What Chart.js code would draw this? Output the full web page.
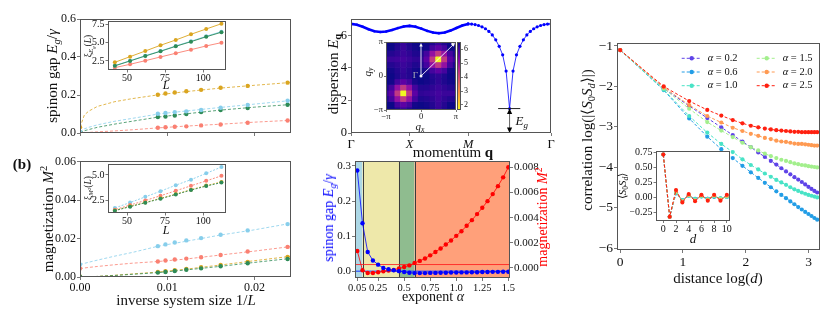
<!DOCTYPE html>
<html>
<head>
<meta charset="utf-8">
<title>spin chain figure</title>
<script src="https://cdn.jsdelivr.net/npm/chart.js@4.4.1/dist/chart.umd.min.js"></script>
<style>
  body { margin: 0; background: #fff; }
  #fig { position: relative; width: 831px; height: 318px; overflow: hidden; background: #fff;
         font-family: 'Liberation Serif', 'Times New Roman', serif; color: #111; }
  #fig canvas { position: absolute; left: 0; top: 0; }
  .lbl { position: absolute; white-space: nowrap; line-height: 1; }
  .lbl sub { font-size: 70%; vertical-align: -0.3em; line-height: 0; }
  .lbl sup { font-size: 70%; vertical-align: 0.55em; line-height: 0; }
</style>
</head>
<body>
<div id="fig"></div>
<script>
// ---------- data ----------
// finite size data, ordered from L = 112 down to L = 42
const sizes = [112, 102, 92, 82, 72, 62, 52, 42];

const gapOrange = [0.201, 0.208, 0.213, 0.220, 0.227, 0.238, 0.248, 0.265];
const gapBlue   = [0.101, 0.105, 0.110, 0.114, 0.121, 0.133, 0.147, 0.170];
const gapGreen  = [0.084, 0.087, 0.092, 0.100, 0.110, 0.121, 0.131, 0.149];
const gapRed    = [0.028, 0.030, 0.033, 0.035, 0.040, 0.045, 0.054, 0.066];
const gapLimitOrange = 0.030, gapLimitBlue = 0.006, gapLimitGreen = 0.003, gapLimitRed = 0.001;

// fitted curves in 1/L
const fitX = [0, 0.0005, 0.001, 0.002, 0.004, 0.006, 0.009, 0.012, 0.016, 0.020, 0.0242];
const gapFitOrange = [0.030, 0.095, 0.115, 0.140, 0.165, 0.181, 0.201, 0.217, 0.236, 0.251, 0.266];
const gapFitBlue   = [0.006, 0.022, 0.030, 0.043, 0.062, 0.077, 0.100, 0.115, 0.134, 0.152, 0.171];
const gapFitGreen  = [0.003, 0.012, 0.018, 0.030, 0.047, 0.062, 0.084, 0.100, 0.120, 0.136, 0.150];
const gapFitRed    = [0.001, 0.002, 0.003, 0.006, 0.011, 0.017, 0.027, 0.036, 0.046, 0.057, 0.067];

const xiGapOrange = [7.58, 6.86, 6.14, 5.36, 4.64, 3.86, 3.09, 2.32];
const xiGapBlue   = [6.50, 5.87, 5.19, 4.55, 3.86, 3.22, 2.54, 1.86];
const xiGapGreen  = [6.42, 5.80, 5.13, 4.50, 3.82, 3.18, 2.50, 1.84];
const xiGapRed    = [5.00, 4.55, 4.04, 3.55, 3.05, 2.54, 2.05, 1.59];

const magBlue   = [0.0161, 0.0170, 0.0180, 0.0191, 0.0203, 0.0220, 0.0243, 0.0276];
const magRed    = [0.0081, 0.0086, 0.0091, 0.0096, 0.0103, 0.0115, 0.0133, 0.0157];
const magOrange = [0.0026, 0.0030, 0.0035, 0.0042, 0.0051, 0.0063, 0.0079, 0.0105];
const magGreen  = [0.0023, 0.0026, 0.0031, 0.0038, 0.0045, 0.0056, 0.0072, 0.0094];
const magLimitBlue = 0.0065, magLimitRed = 0.0044, magLimitOrange = 0.0003, magLimitGreen = 0.0002;

const magFitBlue   = [0.0065, 0.0071, 0.0077, 0.0088, 0.0109, 0.0128, 0.0161, 0.0185, 0.0218, 0.0246, 0.0280];
const magFitRed    = [0.0044, 0.0047, 0.0050, 0.0055, 0.0064, 0.0072, 0.0081, 0.0093, 0.0114, 0.0135, 0.0159];
const magFitOrange = [0.0000, 0.0000, 0.0001, 0.0003, 0.0009, 0.0016, 0.0026, 0.0040, 0.0062, 0.0085, 0.0108];
const magFitGreen  = [0.0000, 0.0000, 0.0001, 0.0003, 0.0008, 0.0014, 0.0023, 0.0036, 0.0055, 0.0076, 0.0097];

const xiMagBlue   = [5.79, 5.16, 4.53, 3.98, 3.38, 2.82, 2.25, 1.71];
const xiMagRed    = [4.91, 4.41, 3.92, 3.42, 2.93, 2.46, 2.00, 1.54];
const xiMagOrange = [4.30, 3.94, 3.53, 3.09, 2.67, 2.26, 1.87, 1.47];
const xiMagGreen  = [4.24, 3.89, 3.49, 3.05, 2.63, 2.23, 1.84, 1.44];

// dispersion along Gamma-X-M-Gamma (path length in units of pi)
const pathQ1 = [0, 0.1, 0.2, 0.3, 0.4, 0.5, 0.6, 0.7, 0.8, 0.9, 1.0, 1.1, 1.2, 1.3, 1.4, 1.5, 1.6, 1.7, 1.8, 1.9, 2.0];
const dispE1 = [6.70, 6.65, 6.52, 6.37, 6.25, 6.20, 6.23, 6.32, 6.44, 6.54, 6.58, 6.53, 6.41, 6.27, 6.17, 6.13, 6.17, 6.29, 6.45, 6.60, 6.70];
const pathQ2 = [2.000, 2.059, 2.118, 2.177, 2.236, 2.295, 2.354, 2.412, 2.471, 2.530, 2.589, 2.648, 2.707,
                2.766, 2.825, 2.884, 2.943, 3.002, 3.061, 3.119, 3.178, 3.237, 3.296, 3.355, 3.414];
const dispE2 = [6.70, 6.69, 6.66, 6.60, 6.52, 6.40, 6.24, 6.02, 5.72, 5.32, 4.80, 3.80, 1.50,
                3.80, 4.80, 5.32, 5.72, 6.02, 6.24, 6.40, 6.52, 6.60, 6.66, 6.69, 6.70];
const pathTicks = [0, 1, 2, 3.4142];
const pathLabels = ['Γ', 'X', 'M', 'Γ'];
const gapLevel = 1.5, gapQ = 2.707, gapBar = [2.512, 2.89];

// E(qx, qy) on a 13 x 13 grid, rows = qy from -pi to pi, columns = qx from -pi to pi
const qGrid = [-3.1416, -2.618, -2.0944, -1.5708, -1.0472, -0.5236, 0, 0.5236, 1.0472, 1.5708, 2.0944, 2.618, 3.1416];
const dispMap = [
  [6.70, 6.60, 6.35, 6.13, 6.35, 6.52, 6.58, 6.52, 6.35, 6.13, 6.35, 6.60, 6.70],
  [6.60, 6.52, 6.00, 5.70, 6.00, 6.45, 6.52, 6.45, 6.30, 6.10, 6.30, 6.52, 6.60],
  [6.35, 6.00, 5.00, 4.30, 5.00, 6.00, 6.35, 6.30, 6.20, 6.05, 6.20, 6.30, 6.35],
  [6.13, 5.70, 4.30, 1.60, 4.30, 5.70, 6.20, 6.15, 6.10, 6.00, 6.10, 6.10, 6.13],
  [6.35, 6.00, 5.00, 4.30, 5.00, 6.00, 6.30, 6.30, 6.20, 6.10, 6.20, 6.30, 6.35],
  [6.52, 6.45, 6.00, 5.70, 6.00, 6.40, 6.52, 6.45, 6.35, 6.20, 6.35, 6.45, 6.52],
  [6.58, 6.52, 6.35, 6.20, 6.30, 6.52, 6.70, 6.52, 6.30, 6.20, 6.35, 6.52, 6.58],
  [6.52, 6.45, 6.30, 6.15, 6.30, 6.45, 6.52, 6.40, 6.00, 5.70, 6.00, 6.45, 6.52],
  [6.35, 6.30, 6.20, 6.10, 6.20, 6.35, 6.30, 6.00, 5.00, 4.30, 5.00, 6.00, 6.35],
  [6.13, 6.10, 6.05, 6.00, 6.10, 6.20, 6.20, 5.70, 4.30, 1.60, 4.30, 5.70, 6.13],
  [6.35, 6.30, 6.20, 6.10, 6.20, 6.35, 6.35, 6.00, 5.00, 4.30, 5.00, 6.00, 6.35],
  [6.60, 6.52, 6.30, 6.10, 6.30, 6.45, 6.52, 6.45, 6.00, 5.70, 6.00, 6.52, 6.60],
  [6.70, 6.60, 6.35, 6.13, 6.35, 6.52, 6.58, 6.52, 6.35, 6.13, 6.35, 6.60, 6.70]
];
const mapMin = 1.64, mapMax = 6.52;
const bzPath = [[0, 0], [0, Math.PI], [Math.PI, Math.PI]];

// gap and magnetization against the exponent alpha
const alphas = [0.05, 0.10, 0.15, 0.20, 0.25, 0.30, 0.35, 0.40, 0.45, 0.50, 0.55, 0.60, 0.65, 0.70, 0.75,
                0.80, 0.85, 0.90, 0.95, 1.00, 1.05, 1.10, 1.15, 1.20, 1.25, 1.30, 1.35, 1.40, 1.45, 1.50];
const gapAlpha = [0.287, 0.137, 0.055, 0.031, 0.019, 0.0094, 0.0057, 0.003, 0.0005, -0.002, -0.004, -0.005, -0.005, -0.005, -0.0045,
                  -0.0045, -0.004, -0.004, -0.0035, -0.0035, -0.003, -0.003, -0.0025, -0.0025, -0.002, -0.002, -0.0015, -0.0015, -0.001, -0.001];
const magAlpha = [0.00135, -0.00018, -0.0004, -0.0004, -0.00034, -0.00026, -0.0002, -0.00016, -0.00005, 0.00008, 0.0002, 0.0004, 0.00056, 0.00075, 0.001,
                  0.00127, 0.00155, 0.00186, 0.00218, 0.00255, 0.00292, 0.00335, 0.0038, 0.00428, 0.00478, 0.00531, 0.00587, 0.0065, 0.0072, 0.008];
const gapRefLevel = 0, magRefLevel = 0.00027;
const phaseEdges = [0.1, 0.45, 0.6];
const phaseColors = ['#add8e6', '#eee8aa', '#8fbc8f', '#ffa07a'];
const alphaTicks = [0.05, 0.25, 0.5, 0.75, 1.0, 1.25, 1.5];
const alphaTickLabels = ['0.05', '0.25', '0.5', '0.75', '1.0', '1.25', '1.5'];

// correlations against distance d = 1..23
const dists = [1, 2, 3, 4, 5, 6, 7, 8, 9, 10, 11, 12, 13, 14, 15, 16, 17, 18, 19, 20, 21, 22, 23];
const corr02 = [-1.1, -2.05, -2.48, -2.78, -3.01, -3.20, -3.36, -3.50, -3.63, -3.74, -3.84, -3.93, -4.02, -4.10, -4.17, -4.24, -4.30, -4.36, -4.42, -4.48, -4.53, -4.58, -4.62];
const corr06 = [-1.1, -2.09, -2.79, -3.24, -3.55, -3.77, -3.96, -4.12, -4.26, -4.38, -4.49, -4.59, -4.68, -4.76, -4.84, -4.91, -4.98, -5.04, -5.10, -5.15, -5.20, -5.25, -5.29];
const corr10 = [-1.1, -2.08, -2.73, -3.14, -3.42, -3.62, -3.80, -3.94, -4.05, -4.15, -4.23, -4.31, -4.37, -4.43, -4.49, -4.54, -4.58, -4.62, -4.65, -4.68, -4.70, -4.72, -4.74];
const corr15 = [-1.1, -2.05, -2.55, -2.88, -3.09, -3.25, -3.39, -3.50, -3.58, -3.66, -3.72, -3.77, -3.81, -3.84, -3.87, -3.90, -3.92, -3.94, -3.95, -3.97, -3.98, -3.99, -4.00];
const corr20 = [-1.1, -2.02, -2.46, -2.73, -2.89, -3.02, -3.10, -3.17, -3.22, -3.27, -3.30, -3.34, -3.36, -3.37, -3.39, -3.41, -3.42, -3.42, -3.43, -3.44, -3.45, -3.46, -3.46];
const corr25 = [-1.1, -2.00, -2.36, -2.58, -2.72, -2.83, -2.91, -2.97, -3.01, -3.04, -3.06, -3.08, -3.09, -3.10, -3.11, -3.12, -3.12, -3.13, -3.13, -3.13, -3.13, -3.13, -3.13];

// raw correlation <S0 Sd>, d = 0..10
const shortDists = [0, 1, 2, 3, 4, 5, 6, 7, 8, 9, 10];
const sd02 = [0.72, -0.32, 0.09, -0.05, 0.04, -0.03, 0.03, -0.02, 0.02, -0.02, 0.02];
const sd06 = [0.72, -0.32, 0.07, -0.04, 0.03, -0.02, 0.02, -0.02, 0.01, -0.01, 0.01];
const sd10 = [0.72, -0.32, 0.08, -0.04, 0.03, -0.02, 0.02, -0.02, 0.02, -0.01, 0.01];
const sd15 = [0.72, -0.32, 0.10, -0.06, 0.04, -0.04, 0.03, -0.03, 0.03, -0.02, 0.02];
const sd20 = [0.72, -0.32, 0.12, -0.07, 0.05, -0.05, 0.04, -0.04, 0.04, -0.04, 0.03];
const sd25 = [0.72, -0.32, 0.13, -0.08, 0.06, -0.06, 0.05, -0.05, 0.05, -0.05, 0.05];
const alphaNames = ['0.2', '0.6', '1.0', '1.5', '2.0', '2.5'];

// ---------- styling ----------
const W = 831, H = 318;
const cOrange = '#daa520', cBlue = '#87ceeb', cGreen = '#2e8b57', cRed = '#fa8072';
const corrColors = ['#5f43e8', '#229de6', '#48e3c6', '#a3ef8d', '#ff9a52', '#ff2010'];
const plasma = ['#0d0887', '#41049d', '#6a00a8', '#8f0da4', '#b12a90', '#cc4778',
                '#e16462', '#f2844b', '#fca636', '#fcce25', '#f0f921'];
const FONT = "'Liberation Serif', 'Times New Roman', serif";

Chart.defaults.font.family = FONT;
Chart.defaults.color = '#111';

const fig = document.getElementById('fig');

function newCanvas() {
  const c = document.createElement('canvas');
  c.width = W; c.height = H;
  c.style.width = W + 'px'; c.style.height = H + 'px';
  fig.appendChild(c);
  return c;
}

function hexRgb(h) {
  return [parseInt(h.slice(1, 3), 16), parseInt(h.slice(3, 5), 16), parseInt(h.slice(5, 7), 16)];
}

function plasmaAt(t) {
  t = Math.max(0, Math.min(1, t)) * (plasma.length - 1);
  const k = Math.min(Math.floor(t), plasma.length - 2), f = t - k;
  const a = hexRgb(plasma[k]), b = hexRgb(plasma[k + 1]);
  return 'rgb(' + a.map((v, i) => Math.round(v + (b[i] - v) * f)).join(',') + ')';
}

function mapColor(v) {
  return plasmaAt((mapMax - v) / (mapMax - mapMin));
}

function axis(pos, min, max, ticks, labels, size, o = {}) {
  return {
    type: 'linear', position: pos, min: min, max: max,
    grid: { display: true, drawOnChartArea: false, drawTicks: true, tickLength: o.tl || 3, tickWidth: 0.8, color: '#555' },
    border: { display: false },
    afterBuildTicks: s => { s.ticks = ticks.map(v => ({ value: v })); },
    afterFit: s => {
      if (s.isHorizontal()) { s.height = size; s.paddingLeft = 0; s.paddingRight = 0; }
      else { s.width = size; s.paddingTop = 0; s.paddingBottom = 0; }
    },
    ticks: {
      display: !!labels, autoSkip: false, maxRotation: 0, padding: o.pad !== undefined ? o.pad : 1,
      color: '#111',
      font: o.italic ? (ctx => ({ size: o.fs || 12, style: o.italic.includes(ctx.index) ? 'italic' : 'normal' }))
                     : { size: o.fs || 12 },
      callback: (v, i) => labels ? labels[i] : ''
    }
  };
}

function frame(fill) {
  return {
    id: 'frame',
    beforeDraw(c) {
      if (!fill) return;
      const a = c.chartArea, ctx = c.ctx;
      ctx.save();
      ctx.fillStyle = fill;
      ctx.fillRect(a.left, a.top, a.right - a.left, a.bottom - a.top);
      ctx.restore();
    },
    afterDraw(c) {
      const a = c.chartArea, ctx = c.ctx;
      ctx.save();
      ctx.strokeStyle = '#555';
      ctx.lineWidth = 1;
      ctx.strokeRect(Math.round(a.left) + 0.5, Math.round(a.top) + 0.5,
                     Math.round(a.right - a.left) - 1, Math.round(a.bottom - a.top) - 1);
      ctx.restore();
    }
  };
}

function build(box, sz, scales, datasets, plugins) {
  return new Chart(newCanvas(), {
    type: 'scatter',
    data: { datasets: datasets },
    options: {
      responsive: false, animation: false, devicePixelRatio: 1, events: [],
      layout: { padding: { left: box.l - (sz.l || 0), top: box.t, right: W - box.r - (sz.r || 0), bottom: H - box.b - (sz.b || 0) } },
      scales: scales,
      plugins: { legend: { display: false }, tooltip: { enabled: false } }
    },
    plugins: [frame(box.fill)].concat(plugins || [])
  });
}

function pts(xs, ys, color, r, extra) {
  return Object.assign({
    data: xs.map((x, i) => ({ x: x, y: ys[i] })), showLine: false,
    pointRadius: r || 2, pointBackgroundColor: color, pointBorderWidth: 0, borderColor: color
  }, extra || {});
}

function line(xs, ys, color, w, dash, r, extra) {
  return Object.assign({
    data: xs.map((x, i) => ({ x: x, y: ys[i] })), showLine: true,
    borderColor: color, borderWidth: w, borderDash: dash || [], tension: 0,
    pointRadius: r || 0, pointBackgroundColor: color, pointBorderWidth: 0
  }, extra || {});
}

function arrowHead(ctx, x, y, ang, size) {
  ctx.beginPath();
  ctx.moveTo(x, y);
  ctx.lineTo(x - size * Math.cos(ang - 0.45), y - size * Math.sin(ang - 0.45));
  ctx.lineTo(x - size * Math.cos(ang + 0.45), y - size * Math.sin(ang + 0.45));
  ctx.closePath();
  ctx.fill();
}

function subText(ctx, base, sub, x, y, size, color) {
  ctx.fillStyle = color;
  ctx.textBaseline = 'alphabetic';
  ctx.textAlign = 'left';
  ctx.font = 'italic ' + size + 'px ' + FONT;
  ctx.fillText(base, x, y);
  const w = ctx.measureText(base).width;
  ctx.font = 'italic ' + Math.round(size * 0.7) + 'px ' + FONT;
  ctx.fillText(sub, x + w, y + size * 0.25);
}

function label(html, x, y, size, rot, color, weight) {
  const d = document.createElement('div');
  d.className = 'lbl';
  d.innerHTML = html;
  d.style.left = x + 'px';
  d.style.top = y + 'px';
  d.style.fontSize = size + 'px';
  if (color) d.style.color = color;
  if (weight) d.style.fontWeight = weight;
  d.style.transform = 'translate(-50%, -50%)' + (rot ? ' rotate(' + rot + 'deg)' : '');
  fig.appendChild(d);
}

const invL = sizes.map(L => 1 / L);
const zeroAndInvL = [0].concat(invL);

// ---------- (a) spinon gap vs 1/L ----------
build({ l: 80, t: 19, r: 291, b: 133 }, { l: 40, b: 4 }, {
  x: axis('bottom', 0, 0.0242, [0, 0.01, 0.02], null, 4),
  y: axis('left', 0, 0.6, [0, 0.2, 0.4, 0.6], ['0.0', '0.2', '0.4', '0.6'], 40, { fs: 12 })
}, [
  pts(zeroAndInvL, [gapLimitOrange].concat(gapOrange), cOrange, 2.2),
  pts(zeroAndInvL, [gapLimitBlue].concat(gapBlue), cBlue, 2.2),
  pts(zeroAndInvL, [gapLimitGreen].concat(gapGreen), cGreen, 2.2),
  pts(zeroAndInvL, [gapLimitRed].concat(gapRed), cRed, 2.2),
  line(fitX, gapFitOrange, cOrange, 0.8, [3, 2]),
  line(fitX, gapFitBlue, cBlue, 0.8, [3, 2]),
  line(fitX, gapFitGreen, cGreen, 0.8, [3, 2]),
  line(fitX, gapFitRed, cRed, 0.8, [3, 2])
]);

build({ l: 108, t: 21, r: 226, b: 70, fill: '#fff' }, { l: 18, b: 11 }, {
  x: axis('bottom', 37.5, 115, [50, 75, 100], ['50', '75', '100'], 11, { fs: 10, tl: 2.5, pad: 0 }),
  y: axis('left', 1.27, 7.95, [2.5, 5, 7.5], ['2.5', '5.0', '7.5'], 18, { fs: 10, tl: 2.5 })
}, [
  line(sizes, xiGapOrange, cOrange, 0.9, [], 2),
  line(sizes, xiGapGreen, cGreen, 0.9, [], 2),
  line(sizes, xiGapBlue, cBlue, 0.9, [], 2),
  line(sizes, xiGapRed, cRed, 0.9, [], 2)
]);

// ---------- (b) magnetization vs 1/L ----------
build({ l: 80, t: 161, r: 291, b: 277 }, { l: 40, b: 15 }, {
  x: axis('bottom', 0, 0.0242, [0, 0.01, 0.02], ['0.00', '0.01', '0.02'], 15, { fs: 12 }),
  y: axis('left', 0, 0.0605, [0, 0.02, 0.04, 0.06], ['0.00', '0.02', '0.04', '0.06'], 40, { fs: 12 })
}, [
  pts(zeroAndInvL, [magLimitBlue].concat(magBlue), cBlue, 2.2),
  pts(zeroAndInvL, [magLimitRed].concat(magRed), cRed, 2.2),
  pts(zeroAndInvL, [magLimitGreen].concat(magGreen), cGreen, 2.2),
  pts(zeroAndInvL, [magLimitOrange].concat(magOrange), cOrange, 2.2),
  line(fitX, magFitBlue, cBlue, 0.8, [3, 2]),
  line(fitX, magFitRed, cRed, 0.8, [3, 2]),
  line(fitX, magFitGreen, cGreen, 0.8, [3, 2]),
  line(fitX, magFitOrange, cOrange, 0.8, [3, 2])
]);

build({ l: 108, t: 164, r: 226, b: 213, fill: '#fff' }, { l: 18, b: 11 }, {
  x: axis('bottom', 37.5, 115, [50, 75, 100], ['50', '75', '100'], 11, { fs: 10, tl: 2.5, pad: 0 }),
  y: axis('left', 1.21, 6.09, [2.5, 5], ['2.5', '5.0'], 18, { fs: 10, tl: 2.5 })
}, [
  line(sizes, xiMagGreen, cGreen, 0.9, [2, 1.5], 2),
  line(sizes, xiMagOrange, cOrange, 0.9, [2, 1.5], 2),
  line(sizes, xiMagRed, cRed, 0.9, [2, 1.5], 2),
  line(sizes, xiMagBlue, cBlue, 0.9, [2, 1.5], 2)
]);

// ---------- dispersion ----------
const gapMark = {
  id: 'gapMark',
  afterDatasetsDraw(c) {
    const ctx = c.ctx, x = c.scales.x, y = c.scales.y;
    const ym = y.getPixelForValue(gapLevel), y0 = y.getPixelForValue(0);
    const xm = x.getPixelForValue(gapQ);
    ctx.save();
    ctx.strokeStyle = '#222';
    ctx.lineWidth = 1;
    ctx.beginPath();
    ctx.moveTo(x.getPixelForValue(gapBar[0]), ym);
    ctx.lineTo(x.getPixelForValue(gapBar[1]), ym);
    ctx.stroke();
    ctx.strokeStyle = '#666';
    ctx.beginPath();
    ctx.moveTo(xm, ym + 4);
    ctx.lineTo(xm, y0 - 4);
    ctx.stroke();
    ctx.fillStyle = '#000';
    arrowHead(ctx, xm, ym, -Math.PI / 2, 6);
    arrowHead(ctx, xm, y0, Math.PI / 2, 6);
    subText(ctx, 'E', 'g', xm + 6, ym + 16, 13, '#111');
    ctx.restore();
  }
};

build({ l: 351, t: 19, r: 551, b: 133 }, { l: 14, b: 15 }, {
  x: axis('bottom', 0, 3.4142, pathTicks, pathLabels, 15, { fs: 12.5, italic: [1, 2] }),
  y: axis('left', 0, 7, [0, 2, 4, 6], ['0', '2', '4', '6'], 14, { fs: 12.5 })
}, [
  line(pathQ1, dispE1, '#0000ff', 2.6, [], 1.3),
  line(pathQ2, dispE2, '#0000ff', 0.8, [], 1.6)
], [gapMark]);

// heat map inset
const bz = {
  id: 'bz',
  afterDatasetsDraw(c) {
    const ctx = c.ctx, x = c.scales.x, y = c.scales.y;
    const P = bzPath.map(p => [x.getPixelForValue(p[0]), y.getPixelForValue(p[1])]);
    ctx.save();
    ctx.strokeStyle = 'rgba(255,255,255,0.85)';
    ctx.fillStyle = 'rgba(255,255,255,0.95)';
    ctx.lineWidth = 1;
    ctx.beginPath();
    ctx.moveTo(P[0][0], P[0][1]); ctx.lineTo(P[1][0], P[1][1] + 3);
    ctx.moveTo(P[1][0], P[1][1]); ctx.lineTo(P[2][0] - 3, P[2][1]);
    ctx.moveTo(P[0][0], P[0][1]); ctx.lineTo(P[2][0] - 2, P[2][1] + 2);
    ctx.stroke();
    arrowHead(ctx, P[1][0], P[1][1] + 1, -Math.PI / 2, 4);
    arrowHead(ctx, P[2][0] - 1, P[2][1] + 1, 0, 4);
    arrowHead(ctx, P[2][0] - 1, P[2][1] + 1, -Math.PI / 4, 4);
    ctx.beginPath();
    ctx.arc(P[0][0], P[0][1], 1.5, 0, 2 * Math.PI);
    ctx.fill();
    ctx.fillStyle = '#bbb';
    ctx.font = '9px ' + FONT;
    ctx.textAlign = 'right';
    ctx.textBaseline = 'middle';
    ctx.fillText('Γ', P[0][0] - 3, P[0][1]);
    ctx.restore();
  }
};

const cellX = [], cellY = [], cellC = [];
dispMap.forEach((row, j) => row.forEach((v, i) => {
  cellX.push(qGrid[i]); cellY.push(qGrid[j]); cellC.push(mapColor(v));
}));

build({ l: 386, t: 42, r: 456, b: 110 }, { l: 12, b: 10 }, {
  x: axis('bottom', -Math.PI, Math.PI, [-Math.PI, 0, Math.PI], ['−π', '0', 'π'], 10, { fs: 8.5, tl: 2, pad: 0 }),
  y: axis('left', -Math.PI, Math.PI, [-Math.PI, 0, Math.PI], ['−π', '0', 'π'], 12, { fs: 8.5, tl: 2 })
}, [
  pts(cellX, cellY, cellC, 4.5, { pointStyle: 'rect', pointBorderWidth: 0 })
], [bz]);

const cbar = {
  id: 'cbar',
  beforeDatasetsDraw(c) {
    const ctx = c.ctx, a = c.chartArea, y = c.scales.y;
    const g = ctx.createLinearGradient(0, y.getPixelForValue(mapMax), 0, y.getPixelForValue(mapMin));
    plasma.forEach((col, k) => g.addColorStop(k / (plasma.length - 1), col));
    ctx.save();
    ctx.fillStyle = g;
    ctx.fillRect(a.left, a.top, a.right - a.left, a.bottom - a.top);
    ctx.restore();
  }
};
build({ l: 457, t: 42, r: 461, b: 110 }, { r: 10 }, {
  x: { display: false, min: 0, max: 1 },
  y: axis('right', mapMin, mapMax, [2, 3, 4, 5, 6], ['2', '3', '4', '5', '6'], 10, { fs: 8, tl: 2 })
}, [], [cbar]);

// ---------- gap and magnetization vs alpha ----------
const phases = {
  id: 'phases',
  beforeDatasetsDraw(c) {
    const ctx = c.ctx, a = c.chartArea, x = c.scales.x;
    const edges = [x.min].concat(phaseEdges, [x.max]);
    ctx.save();
    for (let k = 0; k < edges.length - 1; k++) {
      const x0 = x.getPixelForValue(edges[k]), x1 = x.getPixelForValue(edges[k + 1]);
      ctx.fillStyle = phaseColors[k];
      ctx.fillRect(x0, a.top, x1 - x0, a.bottom - a.top);
    }
    ctx.strokeStyle = '#3c3c3c';
    ctx.lineWidth = 1;
    phaseEdges.forEach(e => {
      const px = Math.round(x.getPixelForValue(e)) + 0.5;
      ctx.beginPath(); ctx.moveTo(px, a.top); ctx.lineTo(px, a.bottom); ctx.stroke();
    });
    ctx.restore();
  }
};

build({ l: 355, t: 161, r: 510, b: 278 }, { l: 22, r: 32, b: 14 }, {
  x: axis('bottom', 0.028, 1.516, alphaTicks, alphaTickLabels, 14, { fs: 10.5 }),
  y: axis('left', -0.019, 0.314, [0, 0.1, 0.2, 0.3], ['0.0', '0.1', '0.2', '0.3'], 22, { fs: 11 }),
  y2: axis('right', -0.0008, 0.0085, [0, 0.002, 0.004, 0.006, 0.008], ['0.000', '0.002', '0.004', '0.006', '0.008'], 32, { fs: 11 })
}, [
  line(alphas, gapAlpha, '#0000ff', 0.8, [], 2.2, { yAxisID: 'y' }),
  line(alphas, magAlpha, '#ff0000', 0.8, [], 2.2, { yAxisID: 'y2' }),
  line([0.028, 1.516], [gapRefLevel, gapRefLevel], 'rgba(40,70,255,0.75)', 1.6, [], 0, { yAxisID: 'y' }),
  line([0.028, 1.516], [magRefLevel, magRefLevel], 'rgba(255,30,30,0.85)', 1, [], 0, { yAxisID: 'y2' })
], [phases]);

// ---------- correlations ----------
const corrSets = [corr02, corr06, corr10, corr15, corr20, corr25];
const sdSets = [sd02, sd06, sd10, sd15, sd20, sd25];
const logDist = dists.map(d => Math.log(d));

const corrLegend = {
  id: 'corrLegend',
  afterDatasetsDraw(c) {
    const ctx = c.ctx, a = c.chartArea;
    ctx.save();
    alphaNames.forEach((name, i) => {
      const col = i < 3 ? 0 : 1, row = i % 3;
      const x0 = a.left + (col ? 139.7 : 64.7), y0 = a.top + 15.3 + row * 13.7;
      ctx.strokeStyle = corrColors[i];
      ctx.lineWidth = 1;
      ctx.setLineDash([3, 2]);
      ctx.beginPath(); ctx.moveTo(x0, y0); ctx.lineTo(x0 + 20, y0); ctx.stroke();
      ctx.setLineDash([]);
      ctx.fillStyle = corrColors[i];
      ctx.beginPath(); ctx.arc(x0 + 10, y0, 2.2, 0, 2 * Math.PI); ctx.fill();
      ctx.fillStyle = '#111';
      ctx.textBaseline = 'middle';
      ctx.textAlign = 'left';
      ctx.font = 'italic 10.5px ' + FONT;
      const tx = x0 + 26;
      ctx.fillText('α', tx, y0);
      const w = ctx.measureText('α').width;
      ctx.font = '10.5px ' + FONT;
      ctx.fillText(' = ' + name, tx + w, y0);
    });
    ctx.restore();
  }
};

build({ l: 617, t: 43, r: 820, b: 250 }, { l: 24, b: 16 }, {
  x: axis('bottom', -0.05, 3.18, [0, 1, 2, 3], ['0', '1', '2', '3'], 16, { fs: 13.5 }),
  y: axis('left', -6.04, -0.926, [-6, -5, -4, -3, -2, -1], ['−6', '−5', '−4', '−3', '−2', '−1'], 24, { fs: 13.5 })
}, corrSets.map((s, i) => line(logDist, s, corrColors[i], 1, [3, 2], 2.1)).reverse(), [corrLegend]);

build({ l: 656, t: 151, r: 730, b: 221, fill: '#fff' }, { l: 26, b: 11 }, {
  x: axis('bottom', -1.15, 10.5, [0, 2, 4, 6, 8, 10], ['0', '2', '4', '6', '8', '10'], 11, { fs: 10, tl: 2, pad: 0 }),
  y: axis('left', -0.39, 0.78, [-0.25, 0, 0.25, 0.5, 0.75], ['−0.25', '0.00', '0.25', '0.50', '0.75'], 26, { fs: 10, tl: 2.5 })
}, sdSets.map((s, i) => line(shortDists, s, corrColors[i], 1, [3, 2], 2)).reverse());

// ---------- titles ----------
label('spinon gap <i>E<sub>g</sub></i>/<i>γ</i>', 52, 76, 15, -90);
label('ξ<sub><i>E<sub>g</sub></i></sub>(<i>L</i>)', 89, 46, 9.5, -90);
label('<i>L</i>', 166, 85, 12);
label('<b>(b)</b>', 22, 164, 15);
label('magnetization <i>M</i><sup>2</sup>', 48, 219, 15, -90);
label('ξ<sub><i>M</i><sup>2</sup></sub>(<i>L</i>)', 89, 188, 9.5, -90);
label('<i>L</i>', 166, 230, 12);
label('inverse system size 1/<i>L</i>', 186, 300, 15);
label('dispersion <i>E</i><sub><b>q</b></sub>', 333, 74, 15, -90);
label('<i>q<sub>y</sub></i>', 367, 72, 11, -90);
label('<i>q<sub>x</sub></i>', 420, 126, 11);
label('momentum <b>q</b>', 453, 152, 15);
label('spinon gap <i>E<sub>g</sub></i>/<i>γ</i>', 329, 218, 14, -90, '#0000ff');
label('magnetization <i>M</i><sup>2</sup>', 543, 217, 14, -90, '#ff0000');
label('exponent <i>α</i>', 433, 297, 14);
label('correlation log(|⟨<i>S</i><sub>0</sub><i>S<sub>d</sub></i>⟩|)', 587, 140, 15, -90);
label('distance log(<i>d</i>)', 718, 278, 15);
label('⟨<i>S</i><sub>0</sub><i>S<sub>d</sub></i>⟩', 622, 186, 11, -90);
label('<i>d</i>', 693, 238, 13);
</script>
</body>
</html>
